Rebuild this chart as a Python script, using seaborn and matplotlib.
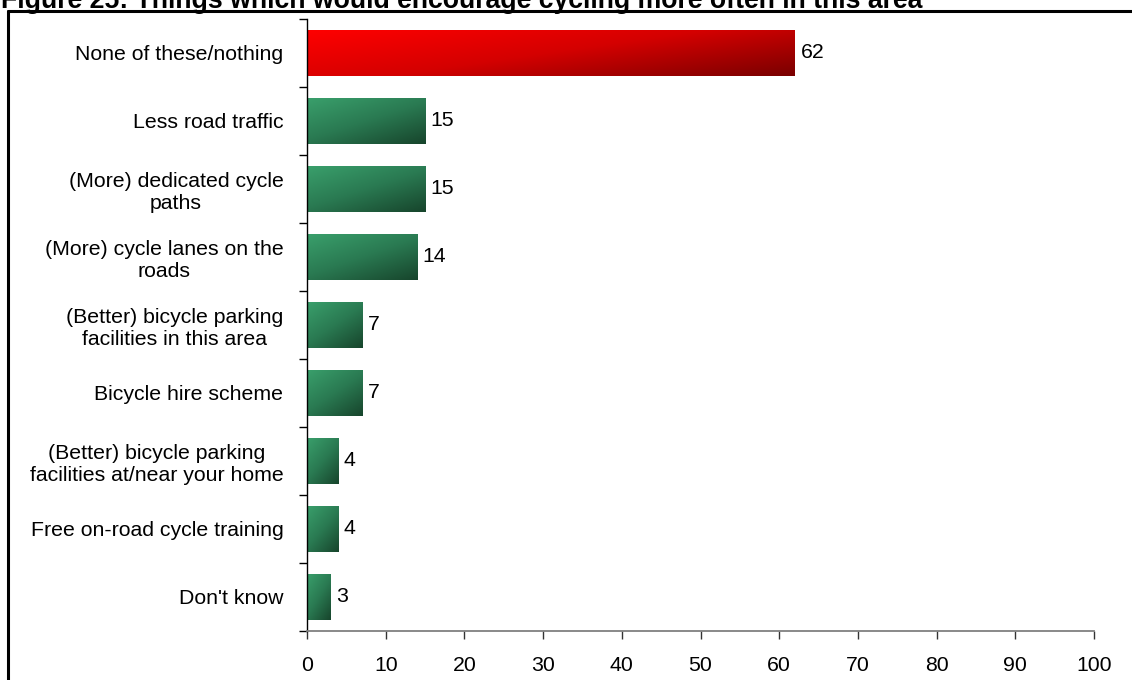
import numpy as np
import pandas as pd
import matplotlib
matplotlib.use("Agg")
import matplotlib.pyplot as plt
from matplotlib.lines import Line2D
from matplotlib.colors import LinearSegmentedColormap
import seaborn as sns

categories = [
    "None of these/nothing",
    "Less road traffic",
    "(More) dedicated cycle\npaths",
    "(More) cycle lanes on the\nroads",
    "(Better) bicycle parking\nfacilities in this area",
    "Bicycle hire scheme",
    "(Better) bicycle parking\nfacilities at/near your home",
    "Free on-road cycle training",
    "Don't know",
]
values = [62, 15, 15, 14, 7, 7, 4, 4, 3]
x_ticks = [0, 10, 20, 30, 40, 50, 60, 70, 80, 90, 100]
title = "Figure 25: Things which would encourage cycling more often in this area"

sns.set_theme(style="white")
plt.rcParams["font.family"] = ["Liberation Sans", "DejaVu Sans"]
plt.rcParams["text.color"] = "black"
plt.rcParams["xtick.color"] = "black"
plt.rcParams["ytick.color"] = "black"

FS = 15.3

fig = plt.figure(figsize=(11.32, 6.8), dpi=100)
ax = fig.add_axes([307/1132, 1 - 631/680, (1094-307)/1132, (631-19)/680])

df = pd.DataFrame({"cat": categories, "val": values})
sns.barplot(data=df, x="val", y="cat", orient="h", ax=ax, width=0.68,
            color="#2e8b57", saturation=1, edgecolor="none")

ax.set_xlim(0, 100)
ylim = ax.get_ylim()

# gradient fills
red_cmap = LinearSegmentedColormap.from_list("r", ["#ff0000", "#d40000", "#7a0000"])
green_cmap = LinearSegmentedColormap.from_list("g", ["#3aa06c", "#2a7a52", "#17452c"])
nx, ny = 200, 60
u = np.linspace(0, 1, nx)[None, :]
v = np.linspace(0, 1, ny)[:, None]
for i, patch in enumerate(ax.patches):
    x0, y0 = patch.get_x(), patch.get_y()
    w, h = patch.get_width(), patch.get_height()
    if i == 0:
        grad = 0.6 * u + 0.4 * v
        cmap = red_cmap
    else:
        grad = 0.45 * u + 0.55 * v
        cmap = green_cmap
    im = ax.imshow(grad, cmap=cmap, vmin=0, vmax=1, aspect="auto",
                   extent=(x0, x0 + w, y0 + h, y0), origin="upper",
                   interpolation="bilinear", zorder=patch.get_zorder() + 0.1)
    im.set_clip_path(patch)
    ax.text(x0 + w + 0.7, y0 + h / 2, f"{values[i]}", va="center", ha="left",
            fontsize=FS, color="black")

ax.set_ylim(ylim)
ax.set_xlim(0, 100)
ax.set_xticks(x_ticks)
ax.set_xlabel("")
ax.set_ylabel("")
ax.set_yticks(range(len(categories)))
ax.set_yticklabels(categories, fontsize=FS, multialignment="center", linespacing=1.17)
ax.tick_params(axis="y", which="major", length=0, pad=17)
ax.set_yticks(np.arange(-0.5, len(categories), 1.0), minor=True)
ax.tick_params(axis="y", which="minor", length=6, width=1, color="#000000", direction="out", left=True)
ax.tick_params(axis="x", which="major", length=6, width=1, color="#333333", direction="out",
               bottom=True, labelsize=FS, pad=12)
for s in ["top", "right"]:
    ax.spines[s].set_visible(False)
ax.spines["left"].set_color("#000000")
ax.spines["left"].set_linewidth(1)
ax.spines["bottom"].set_color("#808080")
ax.spines["bottom"].set_linewidth(1.3)
ax.grid(False)

# figure frame
fig.add_artist(Line2D([8/1132, 8/1132], [0, 1 - 11/680], transform=fig.transFigure,
                      color="black", linewidth=2.2))
fig.add_artist(Line2D([8/1132, 1], [1 - 11/680, 1 - 11/680], transform=fig.transFigure,
                      color="black", linewidth=2.2))
fig.text(1/1132, 1 - 8/680, title, fontsize=19.2, fontweight="bold", ha="left", va="baseline")

fig.savefig("out.png", dpi=100)
